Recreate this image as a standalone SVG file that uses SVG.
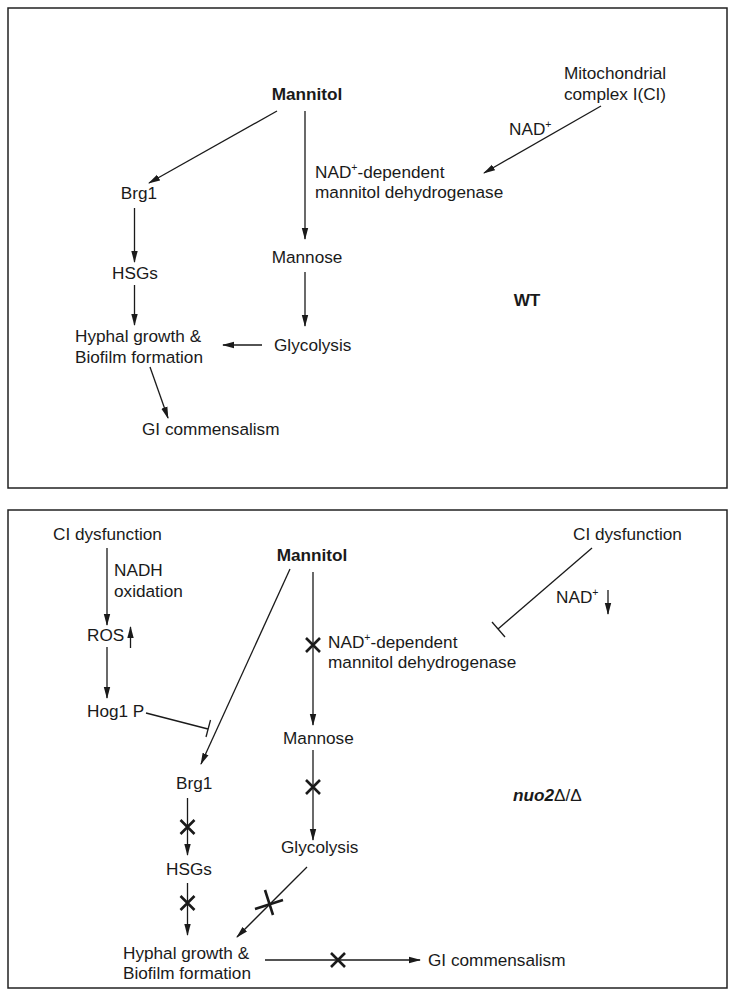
<svg xmlns="http://www.w3.org/2000/svg" width="735" height="999" viewBox="0 0 735 999">
<defs>
<style>
text{font-family:"Liberation Sans",Arial,sans-serif;font-size:17.2px;fill:#1a1a1a}
.b{font-weight:bold}
.m{text-anchor:middle}
.frame{fill:#fff;stroke:#222;stroke-width:1.5}
.c{stroke:#1a1a1a;stroke-width:1.3;fill:none}
.a{marker-end:url(#ah)}
.x{stroke:#1a1a1a;stroke-width:2.6;fill:none}
</style>
<marker id="ah" viewBox="0 0 12 8" refX="11" refY="4" markerWidth="12" markerHeight="8" markerUnits="userSpaceOnUse" orient="auto">
<path d="M0,0.8 L12,4 L0,7.2 Z" fill="#1a1a1a"/>
</marker>
</defs>
<rect width="735" height="999" fill="#fff"/>
<rect class="frame" x="8" y="8" width="719" height="480"/>
<rect class="frame" x="8" y="510" width="719" height="478"/>

<g id="connectors">
<line class="c a" x1="601" y1="106" x2="484" y2="173"/>
<line class="c a" x1="277" y1="111" x2="149" y2="183"/>
<line class="c a" x1="305" y1="111" x2="305" y2="239"/>
<line class="c a" x1="134.5" y1="208" x2="134.5" y2="262"/>
<line class="c a" x1="134.5" y1="285" x2="134.5" y2="325"/>
<line class="c a" x1="305" y1="272" x2="305" y2="326"/>
<line class="c a" x1="262" y1="345" x2="223" y2="345"/>
<line class="c a" x1="150" y1="367" x2="168" y2="418"/>

<line class="c a" x1="107" y1="548" x2="107" y2="625"/>
<line class="c a" x1="107" y1="647" x2="107" y2="698"/>
<line class="c a" x1="130.5" y1="648" x2="130.5" y2="627"/>
<line class="c" x1="146" y1="713" x2="208" y2="729"/>
<line class="c" x1="210.5" y1="720" x2="206" y2="737"/>
<line class="c a" x1="290" y1="569" x2="201" y2="764"/>
<line class="c a" x1="313" y1="572" x2="313" y2="725"/>
<line class="c" x1="592" y1="548" x2="498" y2="629"/>
<line class="c" x1="505" y1="637" x2="492" y2="622"/>
<line class="c a" x1="608" y1="590" x2="608" y2="614"/>
<line class="c a" x1="313" y1="750" x2="313" y2="840"/>
<line class="c a" x1="187.5" y1="798" x2="187.5" y2="855"/>
<line class="c a" x1="187.5" y1="883" x2="187.5" y2="935"/>
<line class="c a" x1="307" y1="867" x2="237" y2="937"/>
<line class="c a" x1="265" y1="960" x2="420" y2="960"/>

<path class="x" d="M306,638 L320,652 M320,638 L306,652"/>
<path class="x" d="M306,780 L320,794 M320,780 L306,794"/>
<path class="x" d="M180.5,820 L194.5,834 M194.5,820 L180.5,834"/>
<path class="x" d="M180.5,896 L194.5,910 M194.5,896 L180.5,910"/>
<path class="x" d="M255,909 L283,900 M265,890 L273,915"/>
<path class="x" d="M331,953 L345,967 M345,953 L331,967"/>
</g>

<g id="top-mannitol"><text class="b m" x="307" y="100">Mannitol</text></g>
<g id="top-mito"><text class="m" x="615" y="79">Mitochondrial</text><text class="m" x="615" y="100">complex I(CI)</text></g>
<g id="top-nad"><text x="509" y="135">NAD<tspan dy="-7" font-size="10.5">+</tspan></text></g>
<g id="top-mdh"><text x="315" y="178">NAD<tspan dy="-7" font-size="10.5">+</tspan><tspan dy="7">-dependent</tspan></text><text x="315" y="198">mannitol dehydrogenase</text></g>
<g id="top-brg1"><text class="m" x="139" y="199">Brg1</text></g>
<g id="top-mannose"><text class="m" x="307" y="263">Mannose</text></g>
<g id="top-hsgs"><text class="m" x="135" y="279">HSGs</text></g>
<g id="top-wt"><text class="b m" x="527" y="306">WT</text></g>
<g id="top-hyphal"><text x="75" y="342">Hyphal growth &amp;</text><text x="75" y="363">Biofilm formation</text></g>
<g id="top-glycolysis"><text x="274" y="351">Glycolysis</text></g>
<g id="top-gi"><text x="142" y="435">GI commensalism</text></g>

<g id="bot-ci-left"><text x="53" y="540">CI dysfunction</text></g>
<g id="bot-ci-right"><text x="573" y="540">CI dysfunction</text></g>
<g id="bot-mannitol"><text class="b m" x="312" y="561">Mannitol</text></g>
<g id="bot-nadh"><text x="114" y="576">NADH</text><text x="114" y="597">oxidation</text></g>
<g id="bot-ros"><text x="87" y="641">ROS</text></g>
<g id="bot-nad"><text x="556" y="603">NAD<tspan dy="-7" font-size="10.5">+</tspan></text></g>
<g id="bot-mdh"><text x="328" y="648">NAD<tspan dy="-7" font-size="10.5">+</tspan><tspan dy="7">-dependent</tspan></text><text x="328" y="668">mannitol dehydrogenase</text></g>
<g id="bot-hog1"><text x="87" y="717">Hog1 P</text></g>
<g id="bot-mannose"><text x="283" y="744">Mannose</text></g>
<g id="bot-brg1"><text x="176" y="789">Brg1</text></g>
<g id="bot-nuo2"><text x="513" y="801"><tspan font-weight="bold" font-style="italic">nuo2</tspan>Δ/Δ</text></g>
<g id="bot-glycolysis"><text x="281" y="853">Glycolysis</text></g>
<g id="bot-hsgs"><text x="166" y="875">HSGs</text></g>
<g id="bot-hyphal"><text x="123" y="959">Hyphal growth &amp;</text><text x="123" y="979">Biofilm formation</text></g>
<g id="bot-gi"><text x="428" y="966">GI commensalism</text></g>
</svg>
